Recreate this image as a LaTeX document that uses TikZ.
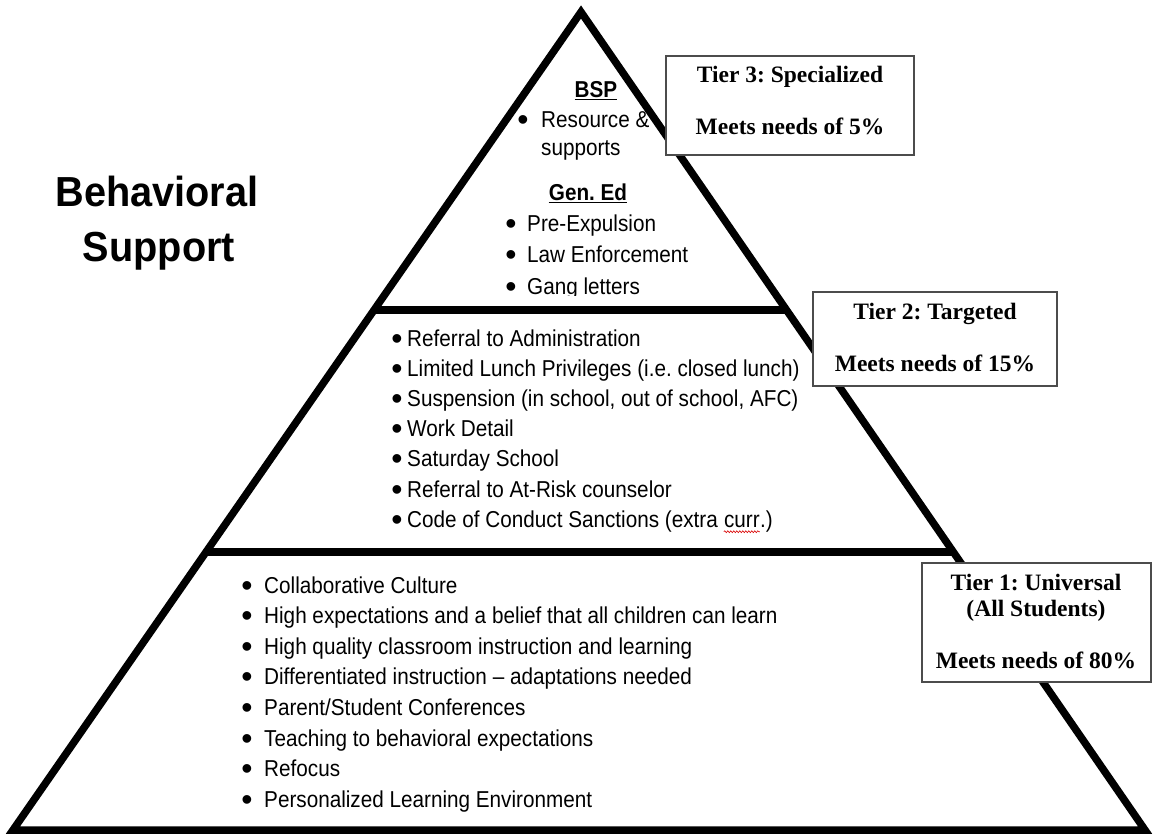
\documentclass[tikz,border=0pt]{standalone}
\usepackage{fontspec}
\setmainfont{Liberation Sans}[FakeStretch=0.90]
\newfontfamily\headfont{Liberation Sans}[FakeStretch=0.945]
\newfontfamily\dotfont{Liberation Sans}
\newfontfamily\tierfont{Liberation Serif}
\usetikzlibrary{calc,decorations.pathmorphing}
\frenchspacing

\begin{document}
\begin{tikzpicture}[x=1pt,y=-1pt,
  txt/.style={inner sep=0pt,font=\fontsize{23}{27}\selectfont},
  item/.style={txt,anchor=base west},
  dot/.style={inner sep=0pt,anchor=base,yshift=-3pt,
    font=\fontsize{32}{32}\selectfont\dotfont},
  heading/.style={txt,anchor=base,font=\fontsize{23}{27}\selectfont\bfseries},
  headline/.style={line width=1.8pt},
  title/.style={anchor=base,inner sep=0pt,font=\fontsize{42}{46}\selectfont\headfont\bfseries},
  tierbox/.style={draw=black!70,line width=1.3pt,fill=white,inner sep=0pt},
  tiertext/.style={anchor=base,inner sep=0pt,font=\fontsize{23.5}{27}\selectfont\tierfont\bfseries},
  edge/.style={line width=7.5pt,line join=miter},
  squiggle/.style={red!85!black,line width=0.6pt,decorate,
    decoration={snake,amplitude=0.9pt,segment length=3pt}}]

\useasboundingbox (0,0) rectangle (1153,835);

% pyramid outline and tier dividers
\coordinate (apex) at (581,12);
\coordinate (bl) at (13,830);
\coordinate (br) at (1145,830);
\draw[edge] (apex) -- (bl) -- (br) -- cycle;
\coordinate (d1l) at ($(apex)!0.3643!(bl)$);
\coordinate (d1r) at ($(apex)!0.3643!(br)$);
\coordinate (d2l) at ($(apex)!0.6601!(bl)$);
\coordinate (d2r) at ($(apex)!0.6601!(br)$);
\draw[edge] (d1l) -- (d1r);
\draw[edge] (d2l) -- (d2r);

% side title
\node[title] (title1) at (157,206) {Behavioral};
\node[title] (title2) at (159,261) {Support};

% top tier
\node[heading] (bsp) at (596,97) {BSP};
\draw[headline] ([yshift=-2.5pt]bsp.base west) -- ([yshift=-2.5pt]bsp.base east);
\node[dot] (t3b1) at (523,127) {\textbullet};
\node[item] (t3i1) at (541,127) {Resource \&};
\node[item] (t3i2) at (541,155) {supports};
\node[heading] (gened) at (588,200) {Gen. Ed};
\draw[headline] ([yshift=-2.5pt]gened.base west) -- ([yshift=-2.5pt]gened.base east);
\begin{scope}
  \clip (0,0) rectangle (1153,295.5);
  \foreach \t [count=\i] in {Pre-Expulsion,Law Enforcement,Gang letters} {
    \pgfmathsetmacro\yy{231+31.5*(\i-1)}
    \node[dot] (t3gb\i) at (511,\yy) {\textbullet};
    \node[item] (t3g\i) at (527,\yy) {\t};
  }
\end{scope}

% middle tier
\foreach \t [count=\i] in {Referral to Administration,
    Limited Lunch Privileges (i.e. closed lunch),
    {Suspension (in school, out of school, AFC)},
    Work Detail, Saturday School, Referral to At-Risk counselor} {
  \pgfmathsetmacro\yy{346+30.2*(\i-1)}
  \node[dot] (t2b\i) at (397,\yy) {\textbullet};
  \node[item] (t2i\i) at (407,\yy) {\t};
}
\node[dot] (t2b7) at (397,527.2) {\textbullet};
\node[item] (t2i7) at (407,527.2) {Code of Conduct Sanctions (extra};
\node[item] (t2i7c) at ([xshift=5.75pt]t2i7.base east) {curr};
\node[item] (t2i7e) at (t2i7c.base east) {.)};
\draw[squiggle] ([yshift=-4.5pt]t2i7c.base west) -- ([yshift=-4.5pt]t2i7c.base east);

% bottom tier
\foreach \t [count=\i] in {Collaborative Culture,
    High expectations and a belief that all children can learn,
    High quality classroom instruction and learning,
    Differentiated instruction -- adaptations needed,
    Parent/Student Conferences,
    Teaching to behavioral expectations,
    Refocus,
    Personalized Learning Environment} {
  \pgfmathsetmacro\yy{593+30.6*(\i-1)}
  \node[dot] (t1b\i) at (247,\yy) {\textbullet};
  \node[item] (t1i\i) at (264,\yy) {\t};
}

% tier labels
\node[tierbox,minimum width=248pt,minimum height=99pt] (tier3) at (790,105.5) {};
\node[tiertext] (tier3a) at (790,82) {Tier 3: Specialized};
\node[tiertext] (tier3b) at (790,134) {Meets needs of 5\%};

\node[tierbox,minimum width=244pt,minimum height=94pt] (tier2) at (935,339) {};
\node[tiertext] (tier2a) at (935,319) {Tier 2: Targeted};
\node[tiertext] (tier2b) at (935,371) {Meets needs of 15\%};

\node[tierbox,minimum width=229pt,minimum height=119pt] (tier1) at (1036.5,622.5) {};
\node[tiertext] (tier1a) at (1036,590) {Tier 1: Universal};
\node[tiertext] (tier1b) at (1036,616) {(All Students)};
\node[tiertext] (tier1c) at (1036,668) {Meets needs of 80\%};
\end{tikzpicture}
\end{document}
